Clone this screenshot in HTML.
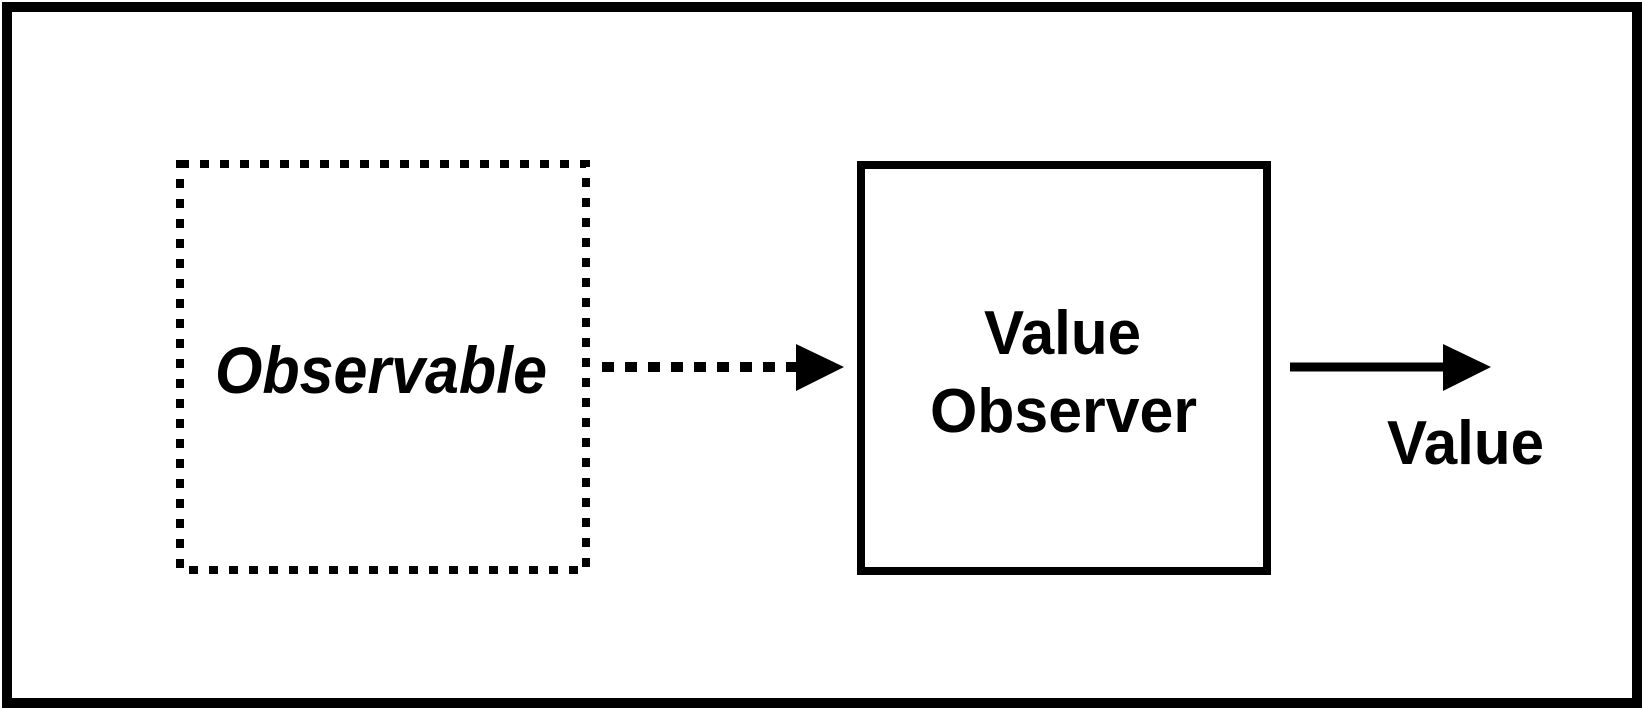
<!DOCTYPE html>
<html><head><style>html,body{margin:0;padding:0;background:#fff;}svg{display:block;}</style></head>
<body>
<svg width="1642" height="708" xmlns="http://www.w3.org/2000/svg">
<rect x="7" y="7" width="1630" height="696" fill="#fff" stroke="#000" stroke-width="10"/>
<rect x="180" y="164" width="406" height="406" fill="none" stroke="#000" stroke-width="8" stroke-dasharray="9 11"/>
<rect x="861" y="165" width="406" height="406" fill="none" stroke="#000" stroke-width="8"/>
<line x1="602" y1="367" x2="798" y2="367" stroke="#000" stroke-width="10" stroke-dasharray="12 11"/>
<polygon points="796,344 844,367 796,391" fill="#000"/>
<line x1="1290" y1="367" x2="1445" y2="367" stroke="#000" stroke-width="9"/>
<polygon points="1443,344 1491,367 1443,391" fill="#000"/>
<g font-family="Liberation Sans, sans-serif" font-weight="bold" fill="#000">
<text x="215" y="393" font-size="66" font-style="italic" textLength="332" lengthAdjust="spacingAndGlyphs">Observable</text>
<text x="984" y="354" font-size="62" textLength="157" lengthAdjust="spacingAndGlyphs">Value</text>
<text x="930" y="432" font-size="62" textLength="267" lengthAdjust="spacingAndGlyphs">Observer</text>
<text x="1387" y="464" font-size="62" textLength="157" lengthAdjust="spacingAndGlyphs">Value</text>
</g>
</svg>
</body></html>
